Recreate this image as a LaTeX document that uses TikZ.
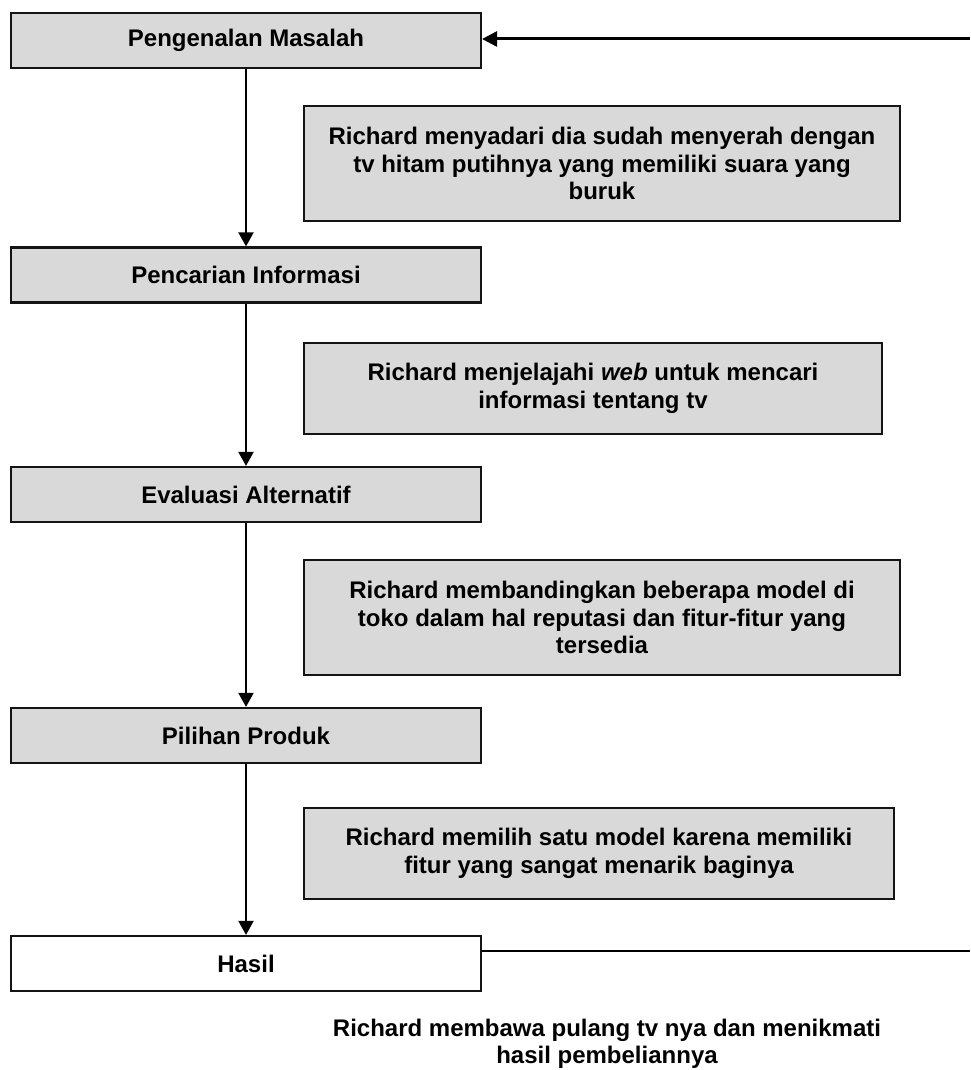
\documentclass[tikz,border=0pt]{standalone}
\usepackage{fontspec}
\setmainfont{Liberation Sans}
\usetikzlibrary{arrows.meta}
\definecolor{boxgray}{HTML}{D9D9D9}
\definecolor{edge}{HTML}{141414}
\begin{document}
\begin{tikzpicture}[x=1pt,y=-1pt,
  txt/.style={font=\fontsize{24}{27.5}\selectfont\bfseries, align=center, inner sep=0pt},
  stepbox/.style={txt, draw=edge, line width=2.2pt, fill=boxgray,
    minimum width=470pt, minimum height=55pt},
  endbox/.style={stepbox, fill=white},
  notebox/.style={txt, draw=edge, line width=2.2pt, fill=boxgray},
  flow/.style={draw=black, line width=2pt, -{Triangle[length=14pt,width=15pt]}},
  loopback/.style={draw=black, line width=3pt, -{Triangle[length=15pt,width=15pt]}},
  thinline/.style={draw=black, line width=1.6pt}]
\useasboundingbox (0,0) rectangle (970,1070);

% main stages
\node[stepbox] (s1) at (246,40.5) {Pengenalan Masalah};
\node[stepbox] (s2) at (246,275) {Pencarian Informasi};
\node[stepbox] (s3) at (246,494.5) {Evaluasi Alternatif};
\node[stepbox] (s4) at (246,735.5) {Pilihan Produk};
\node[endbox]  (s5) at (246,963.5) {Hasil};

% notes beside each stage
\node[notebox, minimum width=596pt, minimum height=115pt] (n1) at (602,163.5)
  {Richard menyadari dia sudah menyerah dengan\\ tv hitam putihnya yang memiliki suara yang\\ buruk};
\node[notebox, minimum width=578pt, minimum height=91pt] (n2) at (593,388.5)
  {Richard menjelajahi \textit{web} untuk mencari\\ informasi tentang tv};
\node[notebox, minimum width=596pt, minimum height=115pt] (n3) at (602,617.5)
  {Richard membandingkan beberapa model di\\ toko dalam hal reputasi dan fitur-fitur yang\\ tersedia};
\node[notebox, minimum width=590pt, minimum height=91pt] (n4) at (599,853.5)
  {Richard memilih satu model karena memiliki\\ fitur yang sangat menarik baginya};
\node[txt] (res) at (607,1044)
  {Richard membawa pulang tv nya dan menikmati\\ hasil pembeliannya};

% flow between stages
\draw[flow] (s1) -- (s2);
\draw[flow] (s2) -- (s3);
\draw[flow] (s3) -- (s4);
\draw[flow] (s4) -- (s5);

% feedback lines at the right margin
\coordinate (topR) at (970,39);
\coordinate (botR) at (970,951);
\draw[loopback] (topR) -- (topR -| s1.east);
\draw[thinline] (botR -| s5.east) -- (botR);
\end{tikzpicture}
\end{document}
